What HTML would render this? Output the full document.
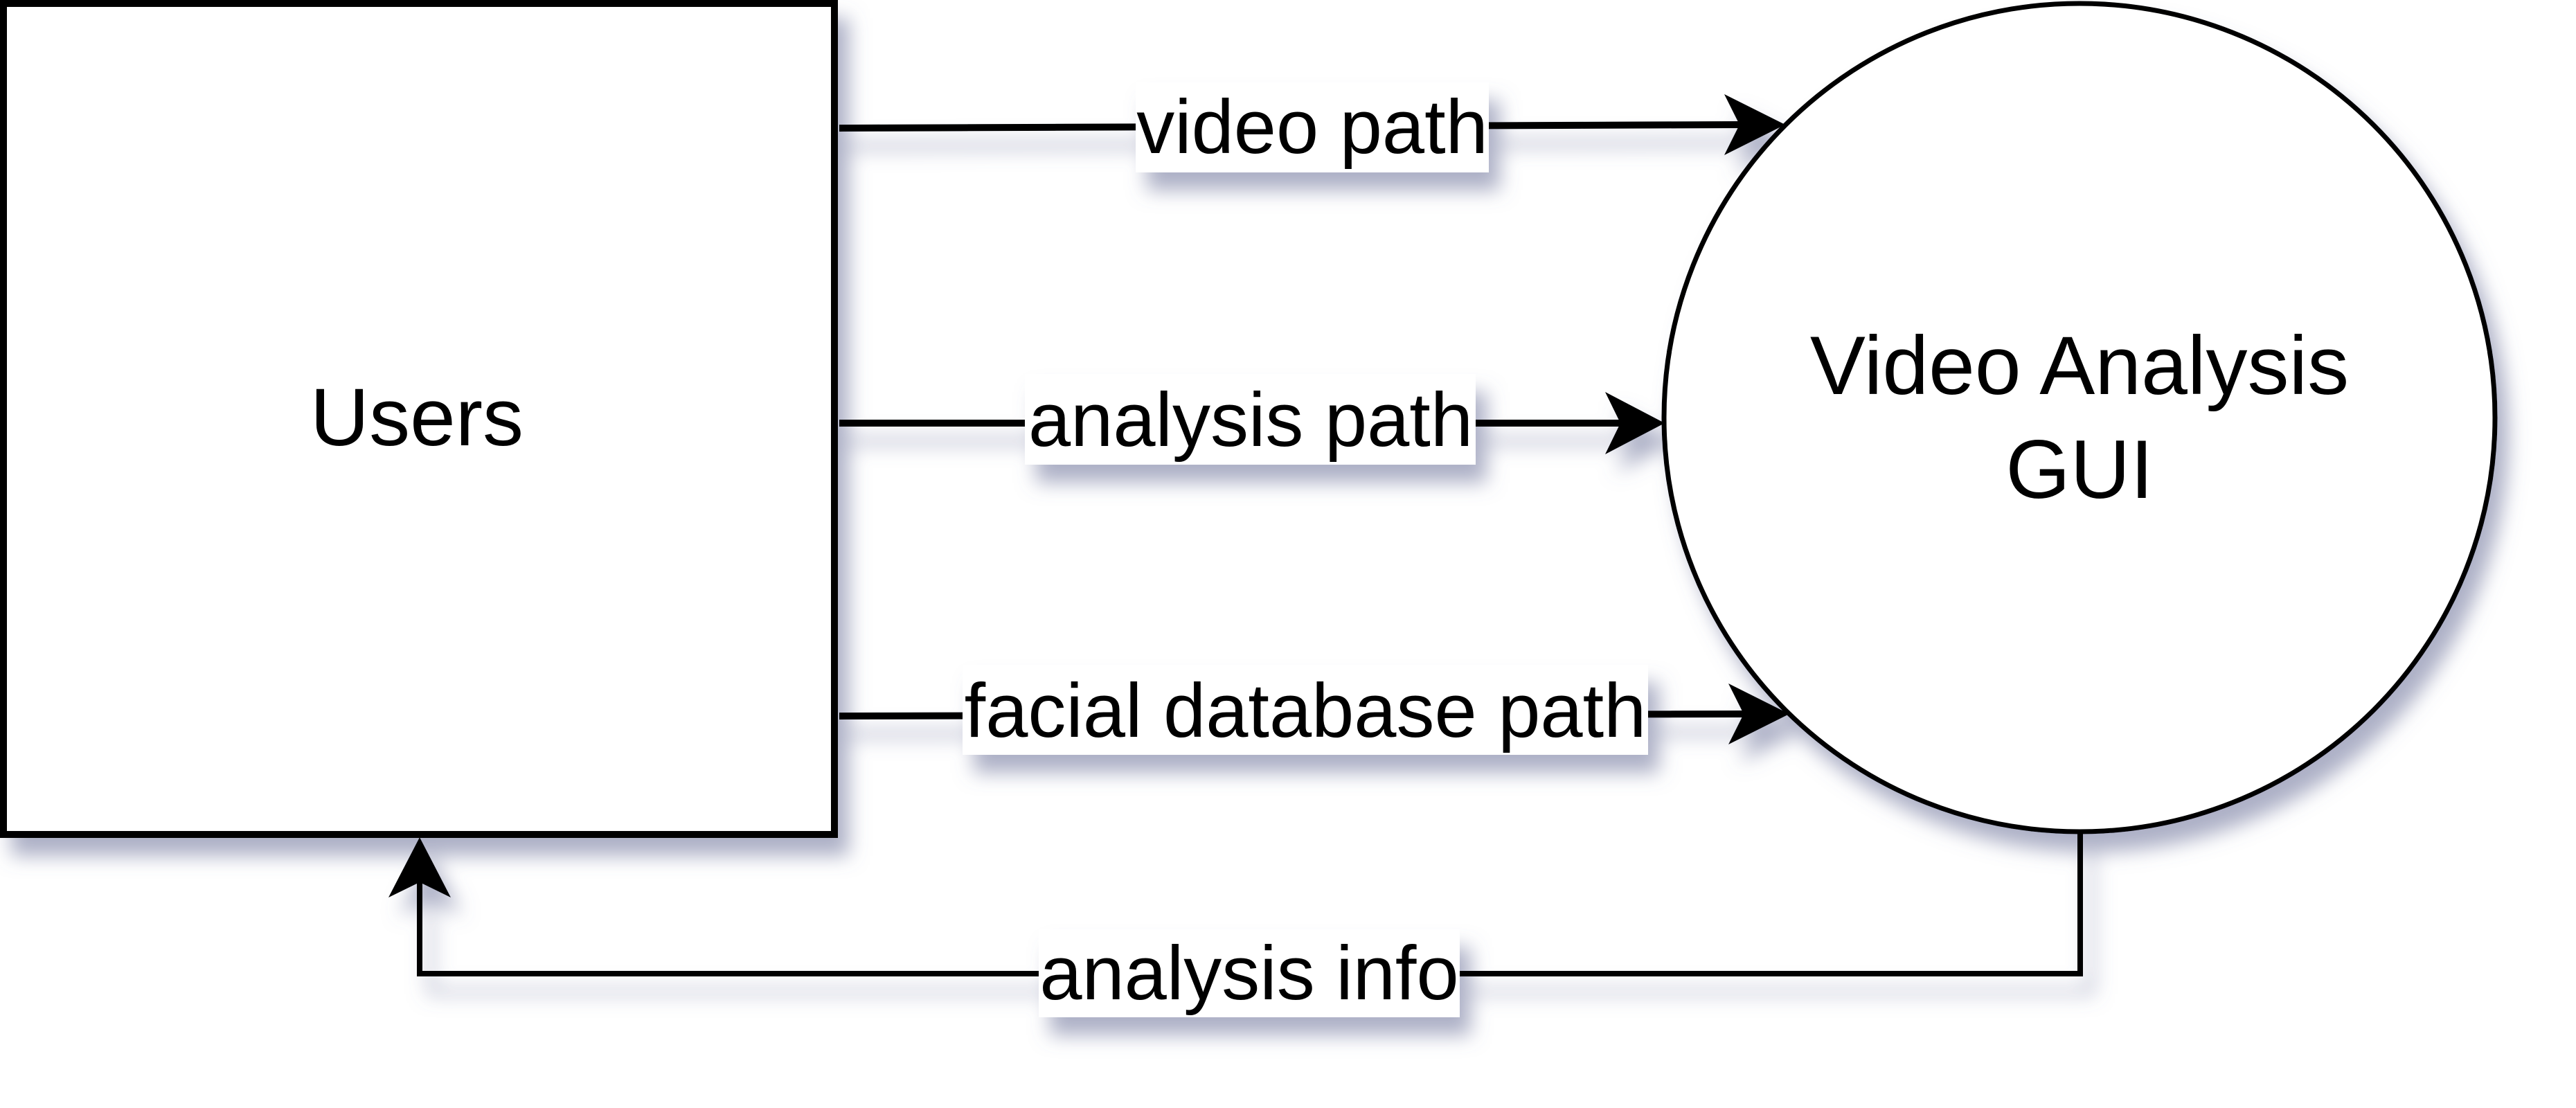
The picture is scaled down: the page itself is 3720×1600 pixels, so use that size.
<!DOCTYPE html>
<html><head><meta charset="utf-8"><style>
html,body{margin:0;padding:0;background:#fff;}
svg{display:block;}
text{font-family:"Liberation Sans",sans-serif;fill:#000;}
</style></head><body>
<svg width="3720" height="1600" viewBox="0 0 3720 1600" xmlns="http://www.w3.org/2000/svg">
<defs>
<filter id="sh" x="-20%" y="-20%" width="150%" height="150%">
<feGaussianBlur in="SourceAlpha" stdDeviation="14"/>
<feOffset dx="16" dy="26" result="b"/>
<feFlood flood-color="#6a7098" flood-opacity="0.55"/>
<feComposite in2="b" operator="in" result="s"/>
<feMerge><feMergeNode in="s"/><feMergeNode in="SourceGraphic"/></feMerge>
</filter>
</defs>
<g filter="url(#sh)">
<rect x="5" y="5" width="1200" height="1200" fill="#fff" stroke="#000" stroke-width="10"/>
<ellipse cx="3003" cy="603" rx="600" ry="598" fill="#fff" stroke="#000" stroke-width="7"/>
<g stroke="#000" stroke-width="10" fill="none">
<line x1="1212" y1="185" x2="2520" y2="180"/>
<line x1="1212" y1="611" x2="2345" y2="611"/>
<line x1="1212" y1="1034" x2="2525" y2="1031"/>
<polyline points="3004,1202 3004,1406 606,1406 606,1270" stroke-width="8"/>
</g>
<g fill="#000">
<polygon points="2578,180 2490,136 2512,180 2490,224"/>
<polygon points="2404,611 2318,566 2340,611 2318,656"/>
<polygon points="2584,1031 2496,987 2518,1031 2496,1075"/>
<polygon points="606,1209 561,1296 606,1274 651,1296"/>
</g>
<rect x="1640" y="119" width="510" height="130" fill="#fff"/>
<rect x="1480" y="540" width="651" height="131" fill="#fff"/>
<rect x="1390" y="960" width="990" height="130" fill="#fff"/>
<rect x="1500" y="1342" width="608" height="127" fill="#fff"/>
</g>
<g font-size="110" text-anchor="middle">
<text x="1895" y="221">video path</text>
<text x="1806" y="644">analysis path</text>
<text x="1885" y="1064">facial database path</text>
<text x="1804" y="1443">analysis info</text>
</g>
<text x="602" y="643" font-size="118" text-anchor="middle">Users</text>
<g font-size="120" text-anchor="middle">
<text x="3003" y="569">Video Analysis</text>
<text x="3003" y="719">GUI</text>
</g>
</svg>
</body></html>
